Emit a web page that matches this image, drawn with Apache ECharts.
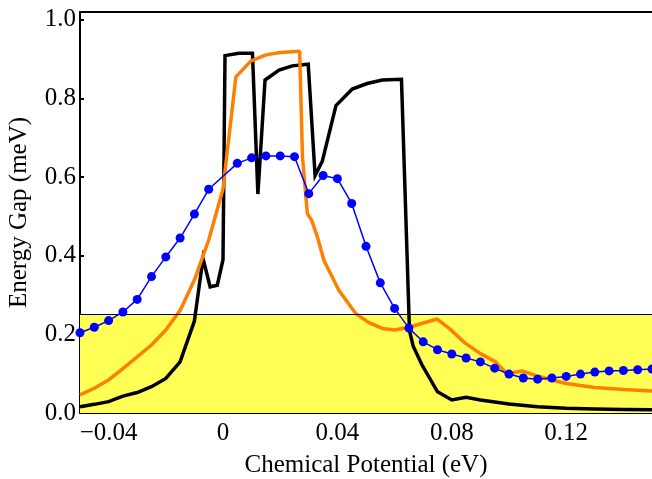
<!DOCTYPE html>
<html>
<head>
<meta charset="utf-8">
<script src="https://cdn.jsdelivr.net/npm/echarts@6/dist/echarts.min.js"></script>
<style>
html,body{margin:0;padding:0;background:#fff;}
#chart{width:652px;height:479px;}
</style>
</head>
<body>
<div id="chart"></div>
<script>
// ---- data ----
const blackX = [-0.05, -0.045, -0.04, -0.035, -0.03, -0.025, -0.02, -0.015, -0.01, -0.007, -0.0045, -0.002, 0.0, 0.0007, 0.0055, 0.0103, 0.0122, 0.0147, 0.0196, 0.0242, 0.0298, 0.0322, 0.0347, 0.0395, 0.0452, 0.0504, 0.0557, 0.0624, 0.0652, 0.0665, 0.0696, 0.075, 0.080, 0.085, 0.090, 0.100, 0.110, 0.120, 0.130, 0.140, 0.150];
const blackY = [0.016, 0.022, 0.029, 0.043, 0.052, 0.067, 0.088, 0.130, 0.234, 0.393, 0.321, 0.325, 0.390, 0.909, 0.915, 0.915, 0.557, 0.847, 0.872, 0.883, 0.887, 0.604, 0.640, 0.782, 0.824, 0.838, 0.847, 0.849, 0.210, 0.170, 0.122, 0.054, 0.033, 0.040, 0.033, 0.023, 0.016, 0.012, 0.010, 0.009, 0.008];

const orangeX = [-0.05, -0.045, -0.04, -0.035, -0.03, -0.025, -0.02, -0.015, -0.01, -0.005, 0.0, 0.0045, 0.0097, 0.015, 0.02, 0.0268, 0.0278, 0.0295, 0.031, 0.033, 0.0353, 0.0405, 0.0464, 0.051, 0.0557, 0.060, 0.065, 0.0749, 0.0796, 0.0848, 0.090, 0.0953, 0.0993, 0.1046, 0.110, 0.115, 0.120, 0.130, 0.140, 0.150];
const orangeY = [0.046, 0.063, 0.084, 0.113, 0.143, 0.173, 0.211, 0.261, 0.338, 0.440, 0.570, 0.855, 0.895, 0.911, 0.917, 0.920, 0.650, 0.507, 0.490, 0.448, 0.388, 0.312, 0.253, 0.230, 0.215, 0.211, 0.218, 0.239, 0.212, 0.177, 0.151, 0.130, 0.100, 0.107, 0.094, 0.084, 0.075, 0.065, 0.060, 0.056];

const blueX = [-0.05, -0.045, -0.04, -0.035, -0.03, -0.025, -0.02, -0.015, -0.01, -0.005, 0.005, 0.01, 0.015, 0.02, 0.025, 0.03, 0.035, 0.04, 0.045, 0.05, 0.055, 0.06, 0.065, 0.07, 0.075, 0.08, 0.085, 0.09, 0.095, 0.1, 0.105, 0.11, 0.115, 0.12, 0.125, 0.13, 0.135, 0.14, 0.145, 0.15];
const blueY = [0.204, 0.218, 0.235, 0.257, 0.289, 0.347, 0.397, 0.445, 0.506, 0.569, 0.635, 0.649, 0.654, 0.654, 0.652, 0.558, 0.604, 0.596, 0.533, 0.424, 0.331, 0.266, 0.216, 0.181, 0.161, 0.150, 0.140, 0.130, 0.114, 0.099, 0.089, 0.086, 0.089, 0.093, 0.099, 0.104, 0.107, 0.108, 0.110, 0.112];

const xTickValues = [-0.04, 0, 0.04, 0.08, 0.12];
const xTickLabels = ['\u22120.04', '0', '0.04', '0.08', '0.12'];
const yTickValues = [0, 0.2, 0.4, 0.6, 0.8, 1.0];
const yTickLabels = ['0.0', '0.2', '0.4', '0.6', '0.8', '1.0'];
const bandTop = 0.25;
const xMin = -0.05, xMax = 0.15, yMin = 0, yMax = 1.02;

// ---- build ----
const zip = (xs, ys) => xs.map((x, i) => [x, ys[i]]);
const labelFor = (vals, labels) => (v) => {
  for (let i = 0; i < vals.length; i++) if (Math.abs(vals[i] - v) < 1e-9) return labels[i];
  return '';
};
const FONT = '"Liberation Serif", "Times New Roman", serif';

const chart = echarts.init(document.getElementById('chart'), null, {renderer: 'canvas'});
chart.setOption({
  animation: false,
  backgroundColor: '#ffffff',
  grid: {left: 80, right: 0, top: 12, bottom: 66, containLabel: false, outerBoundsMode: 'none'},
  xAxis: [{
    type: 'value', min: xMin, max: xMax,
    name: 'Chemical Potential (eV)', nameLocation: 'middle', nameGap: 40,
    nameTextStyle: {fontFamily: FONT, fontSize: 25, color: '#000'},
    axisLine: {show: true, onZero: false, lineStyle: {color: '#000', width: 2}},
    axisTick: {show: true, inside: true, length: 4, customValues: xTickValues, lineStyle: {color: '#000', width: 2}},
    axisLabel: {customValues: xTickValues, formatter: labelFor(xTickValues, xTickLabels), fontFamily: FONT, fontSize: 25, color: '#000', margin: 8},
    splitLine: {show: false}
  }, {
    type: 'value', min: xMin, max: xMax, position: 'top',
    axisLine: {show: true, onZero: false, lineStyle: {color: '#000', width: 2}},
    axisTick: {show: false}, axisLabel: {show: false}, splitLine: {show: false}
  }],
  yAxis: {
    type: 'value', min: yMin, max: yMax,
    name: 'Energy Gap (meV)', nameLocation: 'middle', nameGap: 48,
    nameTextStyle: {fontFamily: FONT, fontSize: 25, color: '#000'},
    axisLine: {show: true, onZero: false, lineStyle: {color: '#000', width: 2}},
    axisTick: {show: true, inside: true, length: 4, customValues: yTickValues, lineStyle: {color: '#000', width: 2}},
    axisLabel: {customValues: yTickValues, formatter: labelFor(yTickValues, yTickLabels), fontFamily: FONT, fontSize: 25, color: '#000', margin: 4},
    splitLine: {show: false}
  },
  series: [
    {
      name: 'band', type: 'line', data: [], z: 1, silent: true,
      markArea: {silent: true, itemStyle: {color: '#ffff55', opacity: 1}, data: [[{yAxis: 0}, {yAxis: bandTop}]]},
      markLine: {silent: true, symbol: 'none', label: {show: false}, lineStyle: {color: '#000', width: 1, type: 'solid'}, data: [{yAxis: bandTop}]}
    },
    {
      name: 'black', type: 'line', data: zip(blackX, blackY), z: 3,
      showSymbol: false, symbol: 'none',
      lineStyle: {color: '#000', width: 3.5, join: 'miter'}
    },
    {
      name: 'orange', type: 'line', data: zip(orangeX, orangeY), z: 4,
      showSymbol: false, symbol: 'none',
      lineStyle: {color: '#ff7f00', width: 3.5}
    },
    {
      name: 'blue', type: 'line', data: zip(blueX, blueY), z: 5,
      symbol: 'circle', symbolSize: 9, showSymbol: true,
      itemStyle: {color: '#0000ff'},
      lineStyle: {color: '#0000ff', width: 1.5}
    }
  ]
});
</script>
</body>
</html>
